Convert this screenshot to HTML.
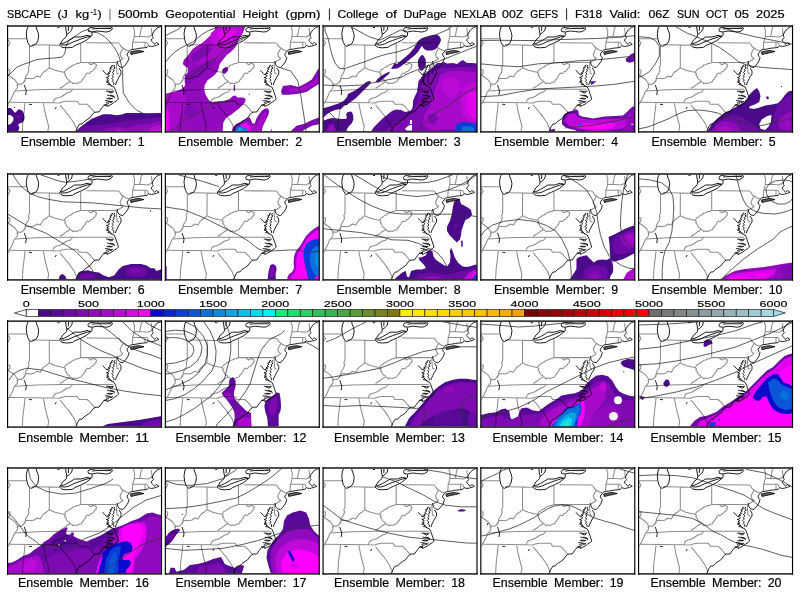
<!DOCTYPE html><html><head><meta charset="utf-8"><style>html,body{margin:0;padding:0;background:#fff;}body{width:800px;height:600px;overflow:hidden;}svg{display:block;}</style></head><body>
<svg width="800" height="600" viewBox="0 0 800 600" font-family='"Liberation Sans", "DejaVu Sans", sans-serif'>
<rect width="800" height="600" fill="#fff"/>
<defs><g id="bm"><path d="M123.5,27 L128,26 L132,25.5 L137,26.5 L133,27.5 L128,28.5 L124,29.5 Z" fill="#666"/><path d="M1,13.7 L19.5,13.7 M1,15 L3,18 L1,21.5 M24.7,19.8 L42,20 L52.5,20.2 M22.5,21 L22.5,38 L22.3,41 L21.3,42.3 L22,45 L21,48 L19,51 L18.3,53 L18,56 L16,58 L14,59.3 M42.3,20 L42.3,42.7 M9.7,60.7 L11,59 L14,59.3 L16,58 L18.7,53.7 L21,53.3 L24,53.7 L27.3,53 L30,51 L33.3,52 L35,49 L37,46.7 L40,44.7 L42.3,42.7 L45,44 L48,45.3 L53,46.5 L57,47.3 M1,44.7 L3,45 L2.7,48.7 L1,50 M1,50 L4,52 L8,55 L10,58 L10.7,60 L10.3,63 L8.7,65 L7,67 L6,70 L4,74 L1.3,79.3 M8,66 L30,64.7 L53,64.3 L106,64.3 M1.3,77.3 L46,77.7 L53,78 L54,77.3 L56.3,76.7 L59,76.3 L69.7,76.3 L71,77 L72.3,79.3 L80,79.3 L83,82 L86.3,86 L88,87.3 M46,77.7 L47,74.7 L49,73.3 L51.3,72.7 L53,72.3 L55,71.3 L58,69.3 L60,68 L63,67.3 L65.7,64.5 M53,63.3 L56.3,61.3 L59.7,58.7 L63,56.7 M57,47.3 L58.5,48.5 L57.8,50 L59.2,51.3 L59.5,53 L61,54.7 L62.5,55.3 L63,56.7 L64.8,57.2 L65.7,58.7 L67.5,57.9 L70.3,58.4 L72,57.2 L74.3,56.7 L75,55.2 L76.3,54 L77.2,52.4 L78.3,51.3 L78.8,49.6 L80.3,48 L81.8,48.6 L83,48 L84,46.5 L85.5,46.2 L87,44.7 L87.6,43.4 L89,42.7 L88.8,41.4 L89.7,40.7 L89,39.3 M18,78 L17.3,85 L16,95 L15.3,107 M36.3,78 L38,87 L40,95 L41.7,101.3 L40.7,107 M53,80 L55,82.3 L57.3,85 L59,87.3 L62,90.7 L64.7,94.7 L67,98 L68.7,102 L69.7,104 L68.7,107 M73.7,19 L73.7,37.3 M73.7,37.4 L109,37.4 M79.5,17.8 L111.5,18 L113,19.5 L114,21.5 L116,23 L119,25 L122.5,26 M116,23.3 L114.5,26 L113,29 L114,32 L116,33.5 L114,35 L111,36.7 L109.5,38 M109.3,37.5 L109.5,42 L110,48 L112,49 M126.5,1.5 L126.7,4 L127.5,5 L127.3,11.5 L126.5,15 L125.7,17 L125.3,24.5 M127.3,11.5 L132.5,11.3 L141,12 L143,11 L145,10 M135.5,1.3 L134,4 L133.5,8 L132.5,11.3 M144.3,3 L144.7,6 L145,10 M125.7,17.3 L140,17.3 M138,17.5 L138,22.5 M140.5,17.5 L141,20 M57,47.3 L58.2,45.8 L59,44.5 L60.6,44 L62,42.5 L63.8,42 L66,40 L67.6,39.8 L70,38.5 L71.5,38.6 L73.7,37.3 M89,39.3 L86.5,38.2 L84,39.8 L82,38.5 L81.7,37.4" fill="none" stroke="#000" stroke-opacity="0.45" stroke-width="1.05" stroke-linejoin="round"/><path d="M154,1.5 L151,2.5 L148,5 L146,8 L145.3,10 L145.5,11.5 L146.3,12.5 L145,14 L144,15 L145,16.5 L146.5,18 L147.5,19.3 L149.5,17.5 L151,18.5 L152,19.3 L149.5,20.3 L147,21 L144.5,21.5 L142.5,21 L141.5,20.5 L140,22.5 L137,22.8 L133,23.2 L129,24 L125,24.5 L122.5,25.5 M123.5,27 L128,26 L132,25.5 L137,26.5 L133,27.5 L128,28.5 L124,29.5 Z M122.5,26 L120,29 L120.5,31 L122,32.5 L121,36 L119,39 L116,42.5 L113,42 L111,40 L110.5,38 L110,36 M112,43 L114,46 L114,49 L112,52 L110.5,55 L109,58 L108.5,60 M102,58 L104,60.5 L107,62 L108.5,65 L109.5,68 L110.5,71 L111.5,74 L110,75.5 L107.5,77 L105,79 L102,80.5 L100,81.5 M101,66.5 L104,68 L106,67 M103,70 L106.5,71 L107.5,73 M99.5,73.5 L104,74 L106,73 M100.5,76.5 L104,77.5 L106,76 M68.7,107 L70.7,102 L72.7,99 L75,99 L77,96.7 L80,94.7 L82.7,93 L85,90 L87,87.7 L89,87 L92,87 L93.3,85 L95,82.7 L97,80.3 L100,79 L100,81.5 M17.3,60 L19.3,66 L18.7,70 M22,79.3 L25,79.5 M48,84 L49.3,82 M106.3,40 L104.3,41 L105.3,42 L102.8,43 L104.3,44 L102.3,45.5 L103.8,46.5 L101.3,47.5 L102.8,48.5 L100.3,49 L102.3,50.5 L101.3,52 L99.3,52.5 L101.8,53.5 L99.8,55 L101.8,56 L99.3,57 L102.3,58 L100.8,59.5 L103.3,60 L104.8,61 M107.8,40 L106.8,42 L108.3,43 L106.3,44.5 L107.3,46 L105.3,47.5 L106.8,49 L105.3,50.5 L106.3,52 L104.8,53.5 L106.3,55 L105.3,56.5 L106.8,58 L106.8,60 M100.5,50 L98.5,48.5 L97,46.5 L95.5,45.5 M99,66 L104,66.5 L107,66 M100,70 L104,71 L107.5,71.5 M101,73 L105,73.5 M98,75.5 L102,76 L105,77 M99,77.5 L102,78.5 M96.5,80 L99.5,80.5" fill="none" stroke="#000" stroke-width="0.85" stroke-linejoin="round"/><path d="M21.5,1 L20,4 L19.3,8.7 L19.7,13 L20.7,17.3 L22.7,20.7 L24.3,21.3 L27,20 L29.3,18.7 L31,15.3 L31.7,10.7 L31,7.3 L29.7,4 L29,1 M58.5,1 L59,5 L59.8,9.3 L59.3,11.5 L58,13 L55.5,15 L54.5,17 L53,19 L52.5,20 M65.5,1 L64.7,5 L62.5,7.5 L59.8,9.3 M50,1.5 L51.5,3 L53,1.5 M52.5,20 L54,21.5 L56,22.5 L60,22.8 L65.5,22.3 L68,20.5 L71,19.3 L75,17.5 L79,15.5 L82,13 L85,10.5 L85,7.3 M53,19 L55,18.5 L57,18 L60,16.5 L64,14.3 L67.5,12 L74,12 L76,11.5 L80,10.3 L84,11.5 M54,19.8 L58,20 L62,19 L66,17 L70,15.5 L75,13.7 L80,12 L84,11 M85,4 L90,3.5 L100,3.6 L104,3.5 M61.5,1 L61.3,6 M85,7 L81.5,6.5 L81,4.5 L82,3 L85,2.3 L90,1.6 L100,1.8 L104,2 L105.5,3 L104.5,5 L102,6.5 L99,7 L95,6.5 L90,6 L85,7" fill="none" stroke="#111" stroke-width="0.95" stroke-linejoin="round"/></g></defs>
<text x="7.00" y="18.3" font-size="11.8" fill="#000" stroke="#000" stroke-width="0.2" textLength="43.70" lengthAdjust="spacingAndGlyphs">SBCAPE</text>
<text x="57.40" y="18.3" font-size="11.8" fill="#000" stroke="#000" stroke-width="0.2" textLength="10.50" lengthAdjust="spacingAndGlyphs">(J</text>
<text x="75.60" y="18.3" font-size="11.8" fill="#000" stroke="#000" stroke-width="0.2" textLength="13.70" lengthAdjust="spacingAndGlyphs">kg</text>
<text x="90.60" y="14.6" font-size="8.2" fill="#000" stroke="#000" stroke-width="0.15" textLength="6.20" lengthAdjust="spacingAndGlyphs">-1</text>
<text x="97.40" y="18.3" font-size="11.8" fill="#000" stroke="#000" stroke-width="0.2" textLength="4.10" lengthAdjust="spacingAndGlyphs">)</text>
<text x="117.90" y="18.3" font-size="11.8" fill="#000" stroke="#000" stroke-width="0.2" textLength="40.20" lengthAdjust="spacingAndGlyphs">500mb</text>
<text x="165.20" y="18.3" font-size="11.8" fill="#000" stroke="#000" stroke-width="0.2" textLength="70.20" lengthAdjust="spacingAndGlyphs">Geopotential</text>
<text x="242.60" y="18.3" font-size="11.8" fill="#000" stroke="#000" stroke-width="0.2" textLength="35.50" lengthAdjust="spacingAndGlyphs">Height</text>
<text x="285.40" y="18.3" font-size="11.8" fill="#000" stroke="#000" stroke-width="0.2" textLength="35.20" lengthAdjust="spacingAndGlyphs">(gpm)</text>
<text x="337.40" y="18.3" font-size="11.8" fill="#000" stroke="#000" stroke-width="0.2" textLength="41.20" lengthAdjust="spacingAndGlyphs">College</text>
<text x="385.40" y="18.3" font-size="11.8" fill="#000" stroke="#000" stroke-width="0.2" textLength="11.50" lengthAdjust="spacingAndGlyphs">of</text>
<text x="403.70" y="18.3" font-size="11.8" fill="#000" stroke="#000" stroke-width="0.2" textLength="42.90" lengthAdjust="spacingAndGlyphs">DuPage</text>
<text x="454.10" y="18.3" font-size="11.8" fill="#000" stroke="#000" stroke-width="0.2" textLength="42.30" lengthAdjust="spacingAndGlyphs">NEXLAB</text>
<text x="502.10" y="18.3" font-size="11.8" fill="#000" stroke="#000" stroke-width="0.2" textLength="21.30" lengthAdjust="spacingAndGlyphs">00Z</text>
<text x="530.20" y="18.3" font-size="11.8" fill="#000" stroke="#000" stroke-width="0.2" textLength="27.90" lengthAdjust="spacingAndGlyphs">GEFS</text>
<text x="574.90" y="18.3" font-size="11.8" fill="#000" stroke="#000" stroke-width="0.2" textLength="27.20" lengthAdjust="spacingAndGlyphs">F318</text>
<text x="609.40" y="18.3" font-size="11.8" fill="#000" stroke="#000" stroke-width="0.2" textLength="31.00" lengthAdjust="spacingAndGlyphs">Valid:</text>
<text x="648.40" y="18.3" font-size="11.8" fill="#000" stroke="#000" stroke-width="0.2" textLength="21.20" lengthAdjust="spacingAndGlyphs">06Z</text>
<text x="676.90" y="18.3" font-size="11.8" fill="#000" stroke="#000" stroke-width="0.2" textLength="22.70" lengthAdjust="spacingAndGlyphs">SUN</text>
<text x="706.10" y="18.3" font-size="11.8" fill="#000" stroke="#000" stroke-width="0.2" textLength="22.00" lengthAdjust="spacingAndGlyphs">OCT</text>
<text x="734.60" y="18.3" font-size="11.8" fill="#000" stroke="#000" stroke-width="0.2" textLength="14.50" lengthAdjust="spacingAndGlyphs">05</text>
<text x="756.10" y="18.3" font-size="11.8" fill="#000" stroke="#000" stroke-width="0.2" textLength="28.50" lengthAdjust="spacingAndGlyphs">2025</text>
<rect x="109.4" y="8.8" width="1.1" height="11.8" fill="#777"/>
<rect x="328.9" y="8.6" width="1.1" height="11.8" fill="#333"/>
<rect x="566.0" y="8.4" width="1.1" height="11.8" fill="#333"/>
<g transform="translate(7.00,25)">
<clipPath id="cp1"><rect x="0.8" y="1.2" width="153.4" height="105.2"/></clipPath>
<g clip-path="url(#cp1)"><path d="M66,107 L68.7,107 L72.2,103 L78,98.4 L84.8,93.8 L91.7,90.9 L96.3,89.2 L103.2,89.2 L109,90.3 L113.6,89.8 L119.3,88 L132,88 L141.2,88.3 L152.7,88 L156,88 L156,108 L66,108 Z" fill="#4a0a8a"/><path d="M70,108 L75,102 L85,100 L95,100 L105,98 L115,96 L125,95 L135,94 L145,93 L156,92 L156,108 Z" fill="#6c0aa6"/><path d="M92,108 L100,103 L110,102 L120,103 L130,100 L140,99 L150,97 L156,96 L156,108 Z" fill="#920abe"/><path d="M104,108 L112,104 L118,108 Z" fill="#bd0ad8"/><path d="M138,108 L146,102 L156,99 L156,108 Z" fill="#bd0ad8"/><path d="M150,108 L156,103 L156,108 Z" fill="#ff00ff"/><path d="M0,83 L3.7,83 L5.3,84.6 L6.9,86.7 L8.5,87.8 L10.1,85.7 L11.7,84.3 L14.4,85.1 L16,86.7 L17.1,89.4 L17.6,92.6 L17.1,95.3 L15.5,97.4 L12.3,98.5 L11.2,100 L12.5,102.7 L12,104 L11.2,106 L11,108 L0,108 L0,100 L1.07,100 L4.3,98.5 L6.4,95.3 L6.4,92.6 L3.7,90 L0,90 Z" fill="#4a0a8a"/><path d="M9.5,91.5 L11.7,89.3 L13.9,91.5 L11.7,93.7 Z" fill="#6c0aa6"/><path d="M7,82 L8,82 L8,83 L7,83 Z" fill="#4a0a8a"/><path d="M0,52 L4,48 L10,42 L16,39.5 L22,37.5 L30,34.5 L40,33.5 L48,33 L55,32 L57.5,29 L58.5,25 L59,21.5 L62,15 L70,10 L75,6.5 L80.6,4.5 L84.9,6.9 L91.3,8 L97.6,11.7 L103,17 L107.2,22.3 L110.4,27.6 L112.5,33 L114.1,39.3 L115.7,45.7 L115.7,55 L116.3,67.8 L122,77.5 L129.8,85.3 L135.7,88.2" fill="none" stroke="#333" stroke-width="0.8" stroke-linejoin="round"/><use href="#bm"/></g>
<rect x="0" y="0.1" width="155" height="1.75" fill="#383838"/>
<rect x="0" y="106.1" width="155" height="1.6" fill="#2a2a2a"/>
<rect x="0" y="0.1" width="1.15" height="107.6" fill="#000"/>
<rect x="153.95" y="0.1" width="1.15" height="107.6" fill="#000"/>
</g>
<text x="20.70" y="145.8" font-size="12.1" fill="#000" stroke="#000" stroke-width="0.2" lengthAdjust="spacingAndGlyphs" textLength="55.00">Ensemble</text>
<text x="82.20" y="145.8" font-size="12.1" fill="#000" stroke="#000" stroke-width="0.2" lengthAdjust="spacingAndGlyphs" textLength="49.40">Member:</text>
<text x="137.80" y="145.8" font-size="12.1" fill="#000" stroke="#000" stroke-width="0.2" lengthAdjust="spacingAndGlyphs" textLength="6.90">1</text>
<g transform="translate(164.75,25)">
<clipPath id="cp2"><rect x="0.8" y="1.2" width="153.4" height="105.2"/></clipPath>
<g clip-path="url(#cp2)"><path d="M51,0 L81,0 L80,3 L78,8 L74,15 L72,20 L70,23 L66,27 L62,30 L58,35 L55,39 L54,43 L53,46 L50,50 L46,53 L43,55 L40,60 L39.5,65 L41,70 L44,75 L47,77 L53,76.5 L58,76.5 L62,75 L65,74 L68.1,71 L70.4,70.6 L72.8,72.5 L78.3,72.5 L81,74 L80.2,77.2 L77.5,80.4 L74.3,83.5 L70.4,86.6 L66.5,89.8 L62.6,92.1 L60.3,94.5 L58.5,98 L58,104 L58,108 L0,108 L0,69 L2,68.5 L6,67.5 L12,66 L17,64 L20,61 L21,57 L23,53 L22.5,52 L23,48 L23,43 L20,41 L18,39 L19,35 L22,32 L25,28 L28,24 L32,21 L36,19 L40,16 L44,13 L48,10 L50,8.5 L51,5 L50,1.5 Z" fill="#920abe"/><path d="M24,30 L30,24 L38,18 L46,10 L52,2 L78,1 L76,10 L70,20 L62,28 L56,34 L48,40 L40,42 L32,40 L26,36 Z" fill="#a80acb"/><path d="M46,8 L52,4 L60,2 L74,2 L78,6 L74,14 L66,20 L58,24 L50,22 L46,16 Z" fill="#bd0ad8"/><path d="M52,8 L58,5 L66,4 L72,6 L68,12 L60,16 L54,15 Z" fill="#e000ee"/><path d="M26,30 L34,24 L42,20 L48,24 L42,30 L34,36 L28,38 Z" fill="#7e0ab2"/><path d="M20,50 L28,44 L36,40 L44,36 L50,33 L52,36 L46,42 L38,48 L30,55 L24,60 L20,58 Z" fill="#7e0ab2"/><path d="M24,72 L34,74 L44,78 L54,80 L58,90 L56,100 L50,108 L30,108 L28,96 L22,86 Z" fill="#920abe"/><path d="M0,70 L8,68 L18,66 L22,72 L20,84 L14,96 L10,108 L0,108 Z" fill="#a80acb"/><path d="M0,85 L4,84 L5,100 L3,108 L0,108 Z" fill="#e000ee"/><path d="M0,92 L2,92 L2,104 L0,104 Z" fill="#ff00ff"/><path d="M20,82 L28,80 L32,86 L26,92 L20,90 Z" fill="#7e0ab2"/><path d="M58,44 L61,42 L63.5,43 L63,46 L60,49 L58,48 L57.5,46 Z" fill="#6c0aa6"/><path d="M116.3,65.9 L118.2,61 L126,60.1 L133.7,62 L141.5,58.1 L147.3,54.3 L153.1,44.6 L156,43 L156,58.1 L149.2,62 L141.5,66.9 L133.7,68.8 L124,69.8 L117.2,69.8 Z" fill="#7e0ab2"/><path d="M124,62 L134,63.5 L142,60 L150,55 L155,50 L155,56 L148,61 L140,65 L132,66.5 L124,67 Z" fill="#a80acb"/><path d="M124,108 L131.8,100.8 L139.5,98.8 L147.3,95 L156,92 L156,98.8 L147.3,100.8 L139.5,104.7 L135.7,108 Z" fill="#7e0ab2"/><path d="M66.5,108 L68.1,102.3 L71.2,99.2 L75.9,96.8 L80.6,94.5 L84.5,92.1 L86.1,94.5 L87.7,98.4 L90,98.4 L91.6,93.7 L94,89.8 L97.1,85.8 L100.2,83.5 L103,83.5 L104.5,85.8 L103.7,89.8 L101.8,93.7 L99.4,98.4 L97.8,102.3 L96.7,108 Z" fill="#7e0ab2"/><path d="M74,108 L76,99 L82,96 L86,100 L92,100 L95,94 L99,88 L102,86 L101,94 L97,102 L95,108 Z" fill="#a80acb"/><path d="M76,100 L82,98 L86,103 L84,108 L76,108 Z" fill="#ff00ff"/><path d="M70,108 L71.5,102 L76,101 L82,103 L84,108 Z" fill="#0a70dc"/><path d="M72,106 L74.3,102.5 L77,103 L78,106 Z" fill="#0aa4e2"/><path d="M69,60 L70.3,60 L70.3,66 L69,66 Z" fill="#7e0ab2"/><path d="M84,69 L85,68.7 L85,70 L84,70 Z" fill="#7e0ab2"/><path d="M105.5,108 L106.5,103.5 L107.5,108 Z" fill="#7e0ab2"/><path d="M0,11 L6,8 L12,5 L18,1 M0,38 L5,32 L10,27 L16,23 L22,20 L28,17 L33,13 L38,9 L43,6 L48,4 L51,3 L55,0 M6,106 L15,100 L22,93 L30,90 L37,86 L43,82 L48,79 L53,77 L60.25,77.2 L66.5,75.7 L70.4,76.4 L72.8,78.8 M23,53 L30,48 L36,43 L42,38 L48,35 L54,31 L60,25 L66,20 L72,17 L80,13 L86,9 M116,43 L126,46 L133,56 L135.7,68 L137.6,81 L139.5,93 L141.5,107" fill="none" stroke="#333" stroke-width="0.8" stroke-linejoin="round"/><use href="#bm"/></g>
<rect x="0" y="0.1" width="155" height="1.75" fill="#383838"/>
<rect x="0" y="106.1" width="155" height="1.6" fill="#2a2a2a"/>
<rect x="0" y="0.1" width="1.15" height="107.6" fill="#000"/>
<rect x="153.95" y="0.1" width="1.15" height="107.6" fill="#000"/>
</g>
<text x="178.10" y="145.8" font-size="12.1" fill="#000" stroke="#000" stroke-width="0.2" lengthAdjust="spacingAndGlyphs" textLength="55.00">Ensemble</text>
<text x="239.60" y="145.8" font-size="12.1" fill="#000" stroke="#000" stroke-width="0.2" lengthAdjust="spacingAndGlyphs" textLength="49.40">Member:</text>
<text x="295.20" y="145.8" font-size="12.1" fill="#000" stroke="#000" stroke-width="0.2" lengthAdjust="spacingAndGlyphs" textLength="6.90">2</text>
<g transform="translate(322.50,25)">
<clipPath id="cp3"><rect x="0.8" y="1.2" width="153.4" height="105.2"/></clipPath>
<g clip-path="url(#cp3)"><path d="M115,38 L118.5,38 L121.5,37 L124.5,38.5 L130.5,38 L134.5,39 L138.5,36 L140.5,35 L144.5,38 L149.5,38 L156,38.5 L156,108 L47.5,108 L51.5,102 L55.5,98 L59.5,94 L64.5,90 L69.5,86 L73.5,84.5 L78.5,85 L82.5,87 L87.5,86 L89.5,84 L90.5,80 L90.5,76 L92,72 L94.5,67 L95.5,60 L96,56 L98.5,53 L100.5,50 L104.5,47 L109.5,43 L113.5,39 Z" fill="#5a0a98"/><path d="M104,52 L112,46 L120,43 L130,43 L140,42 L156,42 L156,108 L60,108 L70,100 L80,94 L88,90 L94,80 L98,66 L100,58 Z" fill="#7e0ab2"/><path d="M118,50 L128,46 L140,46 L156,48 L156,100 L140,104 L125,104 L110,106 L100,100 L102,90 L108,80 L112,66 Z" fill="#a80acb"/><path d="M120,55 L128,52 L136,55 L138,64 L132,72 L125,72 L120,64 Z" fill="#bd0ad8"/><path d="M140,62 L150,58 L156,58 L156,96 L148,98 L140,90 L138,76 Z" fill="#bd0ad8"/><path d="M143,70 L150,66 L156,68 L156,92 L150,94 L144,86 Z" fill="#e000ee"/><path d="M105,90 L112,88 L116,94 L112,100 L106,98 Z" fill="#7e0ab2"/><path d="M132.5,108 L134,99 L140,97 L148,97.5 L156,99 L156,108 Z" fill="#0a3cd8"/><path d="M138,108 L140,102 L148,101 L152,104 L150,108 Z" fill="#0a70dc"/><path d="M87.5,95 L89.5,95 L89.5,99 L87.5,99 Z" fill="#ffffff"/><path d="M82.5,103.5 L87,100 L89.5,100 L89.5,105.5 L84,105.5 Z" fill="#ffffff"/><path d="M74.5,39 L80.5,34 L86.5,29 L91.5,23 L95.5,16 L99.5,13 L104.5,11.5 L109.5,10 L114.5,9.5 L117.5,12 L118.5,15 L117.5,18 L115.5,21 L113.5,24 L109.5,25.5 L104.5,25.5 L101.5,24 L99.5,21 L98.5,22 L95.5,27 L91.5,31 L86.5,35 L81.5,39 L77.5,42 L74.5,43.5 L68.5,44 L72,38 Z" fill="#4a0a8a"/><path d="M110,18 L112.5,17.5 L113,21 L110.5,22 Z" fill="#6c0aa6"/><path d="M95.5,35 L98.5,30.5 L100.5,30 L103,34 L103.5,38 L103,42 L100.5,45 L98.5,46 L96.5,44 L95.5,40 Z" fill="#4a0a8a"/><path d="M53,57 L55,54 L58,51.5 L62,49 L66,47 L67,46.5 L67,48.5 L64,51 L60,54.5 L56,57.5 Z" fill="#4a0a8a"/><path d="M1.5,83 L5.5,82 L11.5,80 L17.5,78 L21.5,75.5 L24.5,72 L25.5,69 L29.5,67 L33.5,65 L37.5,62 L41.5,59 L43.5,57 L47.5,56 L48.5,57 L47.5,59 L44.5,62 L41.5,65 L37.5,69 L33.5,73 L29.5,76 L25.5,79 L21.5,81 L18.5,84 L12.5,85 L7.5,87 L3.5,90 L1.5,92 L0,93 L0,83 Z" fill="#4a0a8a"/><path d="M0,96 L5.5,94 L9.5,93 L14.5,93.5 L19.5,94 L23.5,94 L24.5,92 L23.5,90 L24.5,87.5 L27.5,86.5 L29.5,87 L30.5,90 L31,94 L29.5,98 L26.5,101 L24.5,104 L23.5,108 L0,108 Z" fill="#4a0a8a"/><path d="M4,108 L6,100 L11,99 L13,104 L12,108 Z" fill="#920abe"/><path d="M2.5,0 L2.5,6 L5.5,13 L7.5,22 L9.5,30 L12.5,38 L16.5,43 L21.5,44 L29.5,41 L41.5,37 L54.5,32 L64.5,29 L74.5,27 L84.5,24 L94.5,19 L104.5,13.5 L117.5,8 L126.5,4 L131,0 M28.5,2 L34.5,5 L41.5,9 L47.5,12 L53.5,14 L57.5,15 L62,13 L70,9 L78,5 L84,6 M0,60 L19.5,61 L39.5,60 L49.5,58 L59.5,56 L69.5,54 L79.5,52 L84.5,49 L94.5,45 L104.5,41 L114.5,37 L124.5,33 L134.5,29 L144.5,25 L156,20.5 M0,83 L5.5,86 L10.5,91 L15.5,97 L19.5,102 L23.5,107 M95.5,107 L104.5,95 L114.5,87 L124.5,82 L134.5,74 L144.5,67 L152.5,63 L156,62.3" fill="none" stroke="#333" stroke-width="0.8" stroke-linejoin="round"/><use href="#bm"/></g>
<rect x="0" y="0.1" width="155" height="1.75" fill="#383838"/>
<rect x="0" y="106.1" width="155" height="1.6" fill="#2a2a2a"/>
<rect x="0" y="0.1" width="1.15" height="107.6" fill="#000"/>
<rect x="153.95" y="0.1" width="1.15" height="107.6" fill="#000"/>
</g>
<text x="336.60" y="145.8" font-size="12.1" fill="#000" stroke="#000" stroke-width="0.2" lengthAdjust="spacingAndGlyphs" textLength="55.00">Ensemble</text>
<text x="398.10" y="145.8" font-size="12.1" fill="#000" stroke="#000" stroke-width="0.2" lengthAdjust="spacingAndGlyphs" textLength="49.40">Member:</text>
<text x="453.70" y="145.8" font-size="12.1" fill="#000" stroke="#000" stroke-width="0.2" lengthAdjust="spacingAndGlyphs" textLength="6.90">3</text>
<g transform="translate(480.25,25)">
<clipPath id="cp4"><rect x="0.8" y="1.2" width="153.4" height="105.2"/></clipPath>
<g clip-path="url(#cp4)"><path d="M81.7,95 L82.7,91 L84.7,88.5 L88.7,87 L92.7,86 L95.7,84 L98.2,86 L98.7,90 L101.7,91.5 L107.7,92.5 L112.7,93.5 L118.7,92.5 L124.7,91.5 L134.7,91 L142.7,90.5 L146.7,87 L150.7,83 L153.7,81 L156,80 L156,108 L99.7,108 L94.7,105 L89.7,104 L84.7,102 L81.7,99 Z" fill="#6c0aa6"/><path d="M84,96 L88,90 L94,88 L98,92 L104,94 L114,95 L124,94 L136,94 L146,93 L150,92 L150,100 L140,104 L126,106 L110,106 L98,104 L90,102 Z" fill="#bd0ad8"/><path d="M94.7,100 L100,98 L110,98.5 L120,99 L130,98 L136,99 L132,103 L120,104.5 L108,104 L98,103 Z" fill="#ff00ff"/><path d="M146,90 L152,85 L156,84 L156,108 L140,108 L146,102 Z" fill="#920abe"/><path d="M150,108 L153,100 L156,98 L156,108 Z" fill="#6c0aa6"/><path d="M97.7,98.8 L101.7,98.8 L101.7,99.8 L97.7,99.8 Z" fill="#0a3cd8"/><path d="M151,98.8 L153,98.8 L153,99.8 L151,99.8 Z" fill="#ffffff"/><path d="M145.3,33.9 L151.2,29.1 L156,27 L156,35.9 L149.2,37.8 L146.3,36.8 Z" fill="#5a0a98"/><path d="M150,33 L154,30 L156,30 L156,34 L152,35 Z" fill="#7e0ab2"/><path d="M109.5,56.2 L116.3,56.2 L111.4,60 Z" fill="#5a0a98"/><path d="M69.8,104.7 L74.6,103.7 L74.6,108 L69.8,108 Z" fill="#5a0a98"/><path d="M0,15.5 L20,15.3 L40,15.5 L54,15.5 L81,14.5 L116,13.5 L135,12.5 L156,10.5 M0,38.8 L19.4,40.7 L38.8,41.7 L58,38.8 L77.5,37.8 L97,35.9 L116,34.9 L135.7,33 L156,30.8 M0,71.7 L19.4,70.7 L38.8,66.9 L58,64 L77.5,63 L97,62 L116,61 L135.7,59.1 L156,56 M84.7,103 L93.7,102 L104.7,101 L114.7,100 L124.7,98 L134.7,96 L144.7,94 L156,91.3" fill="none" stroke="#333" stroke-width="0.8" stroke-linejoin="round"/><use href="#bm"/></g>
<rect x="0" y="0.1" width="155" height="1.75" fill="#383838"/>
<rect x="0" y="106.1" width="155" height="1.6" fill="#2a2a2a"/>
<rect x="0" y="0.1" width="1.15" height="107.6" fill="#000"/>
<rect x="153.95" y="0.1" width="1.15" height="107.6" fill="#000"/>
</g>
<text x="494.10" y="145.8" font-size="12.1" fill="#000" stroke="#000" stroke-width="0.2" lengthAdjust="spacingAndGlyphs" textLength="55.00">Ensemble</text>
<text x="555.60" y="145.8" font-size="12.1" fill="#000" stroke="#000" stroke-width="0.2" lengthAdjust="spacingAndGlyphs" textLength="49.40">Member:</text>
<text x="611.20" y="145.8" font-size="12.1" fill="#000" stroke="#000" stroke-width="0.2" lengthAdjust="spacingAndGlyphs" textLength="6.90">4</text>
<g transform="translate(638.00,25)">
<clipPath id="cp5"><rect x="0.8" y="1.2" width="153.4" height="105.2"/></clipPath>
<g clip-path="url(#cp5)"><path d="M69,107.2 L73.6,99.2 L79.4,93.4 L85.3,88.7 L92.2,85.2 L100.4,80.6 L106.2,77.1 L109.7,72.4 L112,69 L115.5,65.5 L119,63.1 L121.3,66.6 L122.5,71.3 L121.3,77.1 L116.7,79.4 L112,81.2 L110.8,82.9 L115.5,84.1 L120.1,82.9 L127.1,80.6 L134.1,79.4 L139.9,78.3 L143.4,74.8 L146.9,70.1 L150.4,66.6 L156,65.3 L156,108 L68,108 Z" fill="#4a0a8a"/><path d="M74,106 L80,97 L88,92 L96,90 L104,92 L110,96 L116,100 L120,104 L124,108 L72,108 Z" fill="#6c0aa6"/><path d="M72,108 L78,100 L86,96 L94,97 L100,101 L104,108 Z" fill="#920abe"/><path d="M76,108 L82,102 L90,101 L94,105 L92,108 Z" fill="#a80acb"/><path d="M140,80 L146,74 L152,70 L156,69 L156,108 L132,108 L134,100 L136,90 Z" fill="#6c0aa6"/><path d="M140,96 L146,90 L152,86 L156,86 L156,104 L150,106 L142,104 Z" fill="#920abe"/><path d="M146,98 L150,95 L153,98 L150,102 Z" fill="#a80acb"/><path d="M121.3,99.2 L123.6,94.5 L129.4,91 L133.5,89.9 L132.9,96.9 L130.6,101.5 L127.1,105 L122.5,103.8 Z" fill="#ffffff"/><path d="M128.3,71.3 L130.6,71.8 L130.6,74.2 L128.5,74 Z" fill="#4a0a8a"/><path d="M143,61 L144,61 L144,62 L143,62 Z" fill="#4a0a8a"/><path d="M0,11.6 L11.6,12.6 L17.4,15.5 L21.3,21.3 L21.3,31 L17.4,38.8 L11.6,46.5 L5.8,50.4 L0,52.3 M34.9,0 L48.4,7.8 L58.1,11.6 L71.7,17.4 L81.4,22.3 L91,29.1 L100.8,36.8 L110.5,40.7 L126,42.6 L139.5,43.6 L156,44.6 M85.3,2.9 L100.8,7.8 L116.3,11.6 L135.7,15.5 L156,19.6 M0,104 L10,102 L20,98 L30,94 L38,90 L45,87 L50,85.5 L60,85 L70,86 L80,88 L85.3,91 L96.9,94.5 L108.5,99.2 L117.8,101.5 L127.1,99.8 L137.6,96.9 L149.2,94.5 L156,93.3" fill="none" stroke="#333" stroke-width="0.8" stroke-linejoin="round"/><use href="#bm"/></g>
<rect x="0" y="0.1" width="155" height="1.75" fill="#383838"/>
<rect x="0" y="106.1" width="155" height="1.6" fill="#2a2a2a"/>
<rect x="0" y="0.1" width="1.15" height="107.6" fill="#000"/>
<rect x="153.95" y="0.1" width="1.15" height="107.6" fill="#000"/>
</g>
<text x="651.60" y="145.8" font-size="12.1" fill="#000" stroke="#000" stroke-width="0.2" lengthAdjust="spacingAndGlyphs" textLength="55.00">Ensemble</text>
<text x="713.10" y="145.8" font-size="12.1" fill="#000" stroke="#000" stroke-width="0.2" lengthAdjust="spacingAndGlyphs" textLength="49.40">Member:</text>
<text x="768.70" y="145.8" font-size="12.1" fill="#000" stroke="#000" stroke-width="0.2" lengthAdjust="spacingAndGlyphs" textLength="6.90">5</text>
<g transform="translate(7.00,173)">
<clipPath id="cp6"><rect x="0.8" y="1.2" width="153.4" height="105.2"/></clipPath>
<g clip-path="url(#cp6)"><path d="M51.4,108 L52.8,102.2 L55.6,101.1 L58.4,102.9 L59.1,105 L59.8,108 Z" fill="#4a0a8a"/><path d="M68.9,108 L71,100.8 L75.2,98 L80.8,97.3 L87.8,99.1 L92,99.4 L96.2,102.2 L101.8,104.3 L107.4,102.2 L111.6,96.6 L115.8,93.1 L124.2,91 L134,91 L139.6,92.4 L143.8,95.2 L147.3,95.2 L149.4,98 L153.6,96.6 L156,95 L156,108 Z" fill="#4a0a8a"/><path d="M72,108 L73,101.5 L78,100 L86,101 L89,104 L88,108 Z" fill="#6c0aa6"/><path d="M118.6,98 L122,94 L130,93 L138,95 L141,99 L138,103 L128,104 L120,102 Z" fill="#6c0aa6"/><path d="M124,97 L130,95.5 L134,97.5 L131,100 L126,100 Z" fill="#7e0ab2"/><path d="M143,37.3 L144,37.3 L144,38.5 L143,38.5 Z" fill="#4a0a8a"/><path d="M5,0 L8.8,6.3 L12.5,11.3 L17.5,16.3 L22.5,20 L31.3,23.8 L41.3,26.3 L56.3,28.8 L72.5,29.4 L87.5,30 L100,31.3 L116.3,32.9 L135.7,34.9 L156,36 M0,40.7 L9.7,46.5 L19.4,52.3 L29.1,56.2 L38.8,60.1 L48.4,65.9 L58.1,71.7 L67.8,77.5 L77.5,87.2 L85.3,96.9 L91,108 M33.8,1.9 L41.3,4.4 L50,7.5 L58.8,9.4 L70,8.1 L81.3,6.3 L85,5" fill="none" stroke="#333" stroke-width="0.8" stroke-linejoin="round"/><use href="#bm"/></g>
<rect x="0" y="0.1" width="155" height="1.75" fill="#383838"/>
<rect x="0" y="106.1" width="155" height="1.6" fill="#2a2a2a"/>
<rect x="0" y="0.1" width="1.15" height="107.6" fill="#000"/>
<rect x="153.95" y="0.1" width="1.15" height="107.6" fill="#000"/>
</g>
<text x="20.70" y="293.8" font-size="12.1" fill="#000" stroke="#000" stroke-width="0.2" lengthAdjust="spacingAndGlyphs" textLength="55.00">Ensemble</text>
<text x="82.20" y="293.8" font-size="12.1" fill="#000" stroke="#000" stroke-width="0.2" lengthAdjust="spacingAndGlyphs" textLength="49.40">Member:</text>
<text x="137.80" y="293.8" font-size="12.1" fill="#000" stroke="#000" stroke-width="0.2" lengthAdjust="spacingAndGlyphs" textLength="6.90">6</text>
<g transform="translate(164.75,173)">
<clipPath id="cp7"><rect x="0.8" y="1.2" width="153.4" height="105.2"/></clipPath>
<g clip-path="url(#cp7)"><path d="M156,52 L154.3,53 L150.3,55 L145.3,59 L141.3,63 L138.3,68 L135.3,73 L131.3,78 L129.3,83 L128.8,89 L129.3,95 L127.3,99 L124.3,101 L122.8,104 L122.3,108 L156,108 Z" fill="#920abe"/><path d="M156,56 L151,58 L146,62 L142,66 L139.5,71 L136.5,76 L133.5,80 L131.5,86 L131.5,95 L130,100 L127,103 L125,108 L156,108 Z" fill="#ff00ff"/><path d="M156,65 L147.3,67 L142.3,70 L139.3,76 L138.8,83 L139.8,90 L141.3,97 L143.3,105 L144,108 L156,108 Z" fill="#0a3cd8"/><path d="M156,72 L150,74 L146,78 L145,86 L146,94 L149,100 L153,104 L156,104 Z" fill="#0a70dc"/><path d="M151,80 L155,78 L156,80 L156,96 L152,94 L150,88 Z" fill="#0a8ade"/><path d="M148,108 L152,103 L156,101 L156,108 Z" fill="#ff00ff"/><path d="M102.7,108 L103.7,98.8 L105.6,92 L108.3,91 L111.3,93 L111.8,97 L110.8,101 L111.3,108 Z" fill="#5a0a98"/><path d="M105,104 L106,96 L109,94 L110,98 L108,104 Z" fill="#7e0ab2"/><path d="M0,93 L1.9,93 L1.9,108 L0,108 Z" fill="#6c0aa6"/><path d="M13.6,1.9 L26,5 L38.8,8.7 L54.3,13.6 M0,33.9 L19.4,36.8 L38.8,44.6 L50.4,50.4 L62,56.2 L73.6,62 L83.3,67.8 L93,75.6 L100.8,78.5 L105.3,78 L115.3,77.5 L125.3,77 L133.3,77 L140.3,78.5 L147.3,78.8 L156,78" fill="none" stroke="#333" stroke-width="0.8" stroke-linejoin="round"/><use href="#bm"/></g>
<rect x="0" y="0.1" width="155" height="1.75" fill="#383838"/>
<rect x="0" y="106.1" width="155" height="1.6" fill="#2a2a2a"/>
<rect x="0" y="0.1" width="1.15" height="107.6" fill="#000"/>
<rect x="153.95" y="0.1" width="1.15" height="107.6" fill="#000"/>
</g>
<text x="178.10" y="293.8" font-size="12.1" fill="#000" stroke="#000" stroke-width="0.2" lengthAdjust="spacingAndGlyphs" textLength="55.00">Ensemble</text>
<text x="239.60" y="293.8" font-size="12.1" fill="#000" stroke="#000" stroke-width="0.2" lengthAdjust="spacingAndGlyphs" textLength="49.40">Member:</text>
<text x="295.20" y="293.8" font-size="12.1" fill="#000" stroke="#000" stroke-width="0.2" lengthAdjust="spacingAndGlyphs" textLength="6.90">7</text>
<g transform="translate(322.50,173)">
<clipPath id="cp8"><rect x="0.8" y="1.2" width="153.4" height="105.2"/></clipPath>
<g clip-path="url(#cp8)"><path d="M131.5,29 L134.5,26 L137,25.5 L138.5,31 L144.5,34 L148.5,37 L149.5,42 L146.8,45 L142.9,47 L141,51.8 L139,57.6 L138.6,62 L137.5,66.3 L134.3,69.4 L131.1,66.3 L126.9,62 L124.5,58 L124.5,53.8 L127.4,48 L129.3,41.2 L130.3,34.4 Z" fill="#4a0a8a"/><path d="M131.5,52 L133.5,50 L135,53 L133,55.5 Z" fill="#6c0aa6"/><path d="M138.6,67.8 L140.2,67.8 L140.2,73.7 L138.8,73.7 Z" fill="#4a0a8a"/><path d="M72.7,105.6 L80.1,99.2 L83.3,98.1 L84.4,103.4 L86.5,104.5 L88.6,98.1 L93.9,96.5 L99.3,96.5 L103.5,94.9 L101.4,91.8 L97.1,87.5 L96.1,84.8 L99.3,84.3 L103.5,82.2 L104.6,79 L106.7,76.9 L109.9,77.9 L111,83.3 L113.1,86.4 L117.3,89.6 L121.6,92.3 L124.8,93.3 L127.4,89.6 L128,83.3 L127.4,77.9 L128.5,74.8 L130.1,77.9 L132.2,84.3 L135.4,89.6 L139.6,93.3 L143.9,93.9 L148.1,93.3 L152.4,91.8 L156,91.5 L156,108 L72,108 Z" fill="#4a0a8a"/><path d="M92,108 L96,101 L106,99.5 L116,100 L124,102 L130,100 L140,98 L150,96 L156,95 L156,108 Z" fill="#6c0aa6"/><path d="M100,108 L104,104 L112,103 L120,105 L118,108 Z" fill="#920abe"/><path d="M140,108 L146,100 L152,97 L156,97 L156,108 Z" fill="#bd0ad8"/><path d="M148,104 L152,99 L156,98.5 L156,102 L152,104 Z" fill="#ff00ff"/><path d="M150.3,108 L151,103 L154,101 L156,101 L156,108 Z" fill="#0a3cd8"/><path d="M0,0 L1.5,1.5 L9.5,8 L19.5,15 L29.5,22 L39.5,28 L49.5,33 L59.5,37 L69.5,40 L79.5,41 L92.5,41 L111.9,41.2 L131.3,41.2 L150.5,43 L156,44 M58,3 L64.5,5.5 L79.5,9.5 L84.5,9.5 L94.5,10 L104.5,9.5 L114.5,7.5 L124.5,4 L130.5,1.5 L133,0 M30,0 L31.5,1.5 L39.5,6 L47.5,11 L54.5,15 L59.5,18 L69.5,20 L74.5,21 L84.5,22.5 L94.5,23.5 L104.5,22.5 L114.5,20.5 L124.5,17.5 L134.5,13.5 L144.5,8.5 L152.5,3 L155,0 M0,55.7 L18.9,57.6 L38.3,59.6 L57.6,63.5 L69.5,66.8 L85.4,67.3 L96.1,70.5 L104.6,74.8 L109.9,76.9 L115.2,80.1 L120.5,86.4 L124.8,93.9 L129,99.2 L133.3,104.5 L134.9,108" fill="none" stroke="#333" stroke-width="0.8" stroke-linejoin="round"/><use href="#bm"/></g>
<rect x="0" y="0.1" width="155" height="1.75" fill="#383838"/>
<rect x="0" y="106.1" width="155" height="1.6" fill="#2a2a2a"/>
<rect x="0" y="0.1" width="1.15" height="107.6" fill="#000"/>
<rect x="153.95" y="0.1" width="1.15" height="107.6" fill="#000"/>
</g>
<text x="336.60" y="293.8" font-size="12.1" fill="#000" stroke="#000" stroke-width="0.2" lengthAdjust="spacingAndGlyphs" textLength="55.00">Ensemble</text>
<text x="398.10" y="293.8" font-size="12.1" fill="#000" stroke="#000" stroke-width="0.2" lengthAdjust="spacingAndGlyphs" textLength="49.40">Member:</text>
<text x="453.70" y="293.8" font-size="12.1" fill="#000" stroke="#000" stroke-width="0.2" lengthAdjust="spacingAndGlyphs" textLength="6.90">8</text>
<g transform="translate(480.25,173)">
<clipPath id="cp9"><rect x="0.8" y="1.2" width="153.4" height="105.2"/></clipPath>
<g clip-path="url(#cp9)"><path d="M128.3,63.9 L132.9,62.1 L138.4,59.3 L144.8,55.7 L152.1,52.9 L156,52.3 L156,79.5 L148.5,83.2 L143,86 L137.5,87.8 L132.9,88.7 L130.1,86 L129.7,79.5 L129.2,70.3 Z" fill="#4a0a8a"/><path d="M133,66 L138,62 L146,59 L154,56 L156,56 L156,77 L148,80 L140,82 L134,80 L132,72 Z" fill="#6c0aa6"/><path d="M140,64 L148,60 L156,59 L156,74 L150,75 L143,72 Z" fill="#920abe"/><path d="M146,63 L152,61 L156,62 L156,70 L151,70 Z" fill="#a80acb"/><path d="M96.2,86 L98.9,84.1 L106.3,82.3 L109.9,86 L113.6,89.6 L117.3,86.9 L122.8,86.4 L126.4,86.9 L130.1,85 L132,88.7 L132.9,93.3 L132.9,98.8 L130.1,103.4 L129.2,108 L89,108 L89.75,106 L91.6,103.4 L96.2,96 Z" fill="#4a0a8a"/><path d="M102,108 L104,97 L110,93 L118,92 L126,94 L128,100 L126,108 Z" fill="#6c0aa6"/><path d="M106,108 L108,100 L114,98 L120,99 L122,104 L120,108 Z" fill="#7e0ab2"/><path d="M110,104 L114,101 L118,103 L116,107 Z" fill="#920abe"/><path d="M142,108 L146.6,99.7 L152.1,96 L156,94.8 L156,108 Z" fill="#a80acb"/><path d="M148,108 L151,100 L156,98 L156,108 Z" fill="#bd0ad8"/><path d="M0,64 L3.9,58.1 L11.6,52.3 L23.3,48.4 L38.8,46.5 L54.3,48.4 L65.9,52.3 L75.6,58.1 L81.4,65.9 L87.2,77.5 L90.1,89.1 L91,100.8 L91,108 M83.3,1.9 L96.9,9.7 L106.6,17.4 L112.4,27.1 L116.3,38.8 L118.2,52 L120,61.2 L123.7,73.1 L129.2,83.2 L135.6,88.7 L141.1,92.4 L148.5,95.1 L156,96.2 M148,0 L147.3,1.9 L143.4,15.5 L141.5,29.1 L140.5,42.6 L140.2,52 L141.1,59.3 L143.9,66.7 L147.6,71.3 L152.1,74.9 L156,76.2" fill="none" stroke="#333" stroke-width="0.8" stroke-linejoin="round"/><use href="#bm"/></g>
<rect x="0" y="0.1" width="155" height="1.75" fill="#383838"/>
<rect x="0" y="106.1" width="155" height="1.6" fill="#2a2a2a"/>
<rect x="0" y="0.1" width="1.15" height="107.6" fill="#000"/>
<rect x="153.95" y="0.1" width="1.15" height="107.6" fill="#000"/>
</g>
<text x="494.10" y="293.8" font-size="12.1" fill="#000" stroke="#000" stroke-width="0.2" lengthAdjust="spacingAndGlyphs" textLength="55.00">Ensemble</text>
<text x="555.60" y="293.8" font-size="12.1" fill="#000" stroke="#000" stroke-width="0.2" lengthAdjust="spacingAndGlyphs" textLength="49.40">Member:</text>
<text x="611.20" y="293.8" font-size="12.1" fill="#000" stroke="#000" stroke-width="0.2" lengthAdjust="spacingAndGlyphs" textLength="6.90">9</text>
<g transform="translate(638.00,173)">
<clipPath id="cp10"><rect x="0.8" y="1.2" width="153.4" height="105.2"/></clipPath>
<g clip-path="url(#cp10)"><path d="M81.4,108 L87.2,102.7 L96.9,97.9 L106.6,95.9 L116.3,95 L126,94 L135.7,92.6 L145.3,90.7 L156,89.3 L156,108 Z" fill="#920abe"/><path d="M86,108 L92,102 L100,100 L110,99 L120,98 L130,97 L138,96 L136,102 L128,106 L120,108 Z" fill="#e000ee"/><path d="M90,108 L96,104 L104,103 L112,104 L110,108 Z" fill="#ff00ff"/><path d="M116,102 L124,100 L130,101 L126,104 Z" fill="#ff00ff"/><path d="M98,98.5 L104,97 L110,97 L106,99 Z" fill="#7e0ab2"/><path d="M142,95 L150,92 L156,91 L156,108 L146,108 L144,100 Z" fill="#7e0ab2"/><path d="M0,5.8 L11.6,6.8 L23.3,9.7 L31,15.5 L34.9,23.3 L35.9,34.9 L34.9,48.4 L33.9,58.1 L31,69.8 L27.1,77.5 L25.2,85.3 L24.2,96.9 L24.2,108 M98,0 L98,2 L100,10 L102,18 L105,26 L108,32 L113,36 L119,39 L127,40.5 L137,41 L145,39.5 L151,37.5 L156,35.5 M156,10 L151,7.5 L145,7 L137,8 L131,11 L128,15.5 L128.5,20.5 L130,24 L134,28.5 L140,31 L147,31 L152,28.5 L156,24 M81.4,108 L93,96.9 L106.6,85.3 L120.2,75.6 L135.7,65.9 L142,59 L150,55 L156,52.5" fill="none" stroke="#333" stroke-width="0.8" stroke-linejoin="round"/><use href="#bm"/></g>
<rect x="0" y="0.1" width="155" height="1.75" fill="#383838"/>
<rect x="0" y="106.1" width="155" height="1.6" fill="#2a2a2a"/>
<rect x="0" y="0.1" width="1.15" height="107.6" fill="#000"/>
<rect x="153.95" y="0.1" width="1.15" height="107.6" fill="#000"/>
</g>
<text x="651.60" y="293.8" font-size="12.1" fill="#000" stroke="#000" stroke-width="0.2" lengthAdjust="spacingAndGlyphs" textLength="55.00">Ensemble</text>
<text x="713.10" y="293.8" font-size="12.1" fill="#000" stroke="#000" stroke-width="0.2" lengthAdjust="spacingAndGlyphs" textLength="49.40">Member:</text>
<text x="768.70" y="293.8" font-size="12.1" fill="#000" stroke="#000" stroke-width="0.2" lengthAdjust="spacingAndGlyphs" textLength="13.80">10</text>
<g transform="translate(7.00,320.2)">
<clipPath id="cp11"><rect x="0.8" y="1.2" width="153.4" height="105.2"/></clipPath>
<g clip-path="url(#cp11)"><path d="M91,108 L100.8,103.7 L116.3,101.7 L131.8,99.8 L143.4,97.9 L156,95.7 L156,108 Z" fill="#4a0a8a"/><path d="M130,108 L138,102 L146,100 L156,98.5 L156,108 Z" fill="#6c0aa6"/><path d="M146,108 L150,103 L156,102 L156,108 Z" fill="#7e0ab2"/><path d="M2,60 L6,54 L13,50 L20,48 L28,49 L36,50 L45,53 L55,56 L65,59 L77.5,62 L96.9,66.9 L116.3,70.7 L135.7,73.6 L156,75.7 M60,8 L65,12 L70,16 L75,20 L85,26 L95,31 L105,35 L115,40 L125,44 L135,48 L145,51 L156,54.3 M88,0 L95,6 L105,13 L113,20 L120,25 L127,29 L135,32 L145,35 L156,39.5 M114,0 L115,1 L120,6 L125,11 L131,15 L137,19 L145,22 L156,26.5 M136,0 L137,1 L145,6 L156,11.5" fill="none" stroke="#333" stroke-width="0.8" stroke-linejoin="round"/><use href="#bm"/></g>
<rect x="0" y="0.1" width="155" height="1.75" fill="#383838"/>
<rect x="0" y="106.1" width="155" height="1.6" fill="#2a2a2a"/>
<rect x="0" y="0.1" width="1.15" height="107.6" fill="#000"/>
<rect x="153.95" y="0.1" width="1.15" height="107.6" fill="#000"/>
</g>
<text x="18.10" y="441.7" font-size="12.1" fill="#000" stroke="#000" stroke-width="0.2" lengthAdjust="spacingAndGlyphs" textLength="55.00">Ensemble</text>
<text x="79.60" y="441.7" font-size="12.1" fill="#000" stroke="#000" stroke-width="0.2" lengthAdjust="spacingAndGlyphs" textLength="49.40">Member:</text>
<text x="135.20" y="441.7" font-size="12.1" fill="#000" stroke="#000" stroke-width="0.2" lengthAdjust="spacingAndGlyphs" textLength="13.80">11</text>
<g transform="translate(164.75,320.2)">
<clipPath id="cp12"><rect x="0.8" y="1.2" width="153.4" height="105.2"/></clipPath>
<g clip-path="url(#cp12)"><path d="M65.4,58.5 L68.3,57.1 L70.7,60.4 L70.7,67.1 L69.2,71.8 L69.2,76.6 L72.1,81.3 L76.8,86.1 L81.6,90.8 L86.3,92.7 L86.8,108 L67.3,108 L70.2,97.5 L69.7,91.8 L67.3,87 L62.6,80.4 L57.8,74.7 L56.9,72.8 L60.7,69 L64.5,65.2 L64.5,60.4 Z" fill="#6c0aa6"/><path d="M65,60 L68,58 L70.5,61 L70.5,66 L66,66 L64.5,63 Z" fill="#5a0a98"/><path d="M59,74.5 L62,72 L68,74 L69.5,78 L66,80 L62,79 Z" fill="#920abe"/><path d="M70,90 L74,88 L80,92 L86,94 L86.5,108 L70,108 Z" fill="#7e0ab2"/><path d="M72,108 L74,99 L80,97 L86,98 L86.5,108 Z" fill="#a80acb"/><path d="M100.6,81.3 L103.4,78.5 L109.1,74.7 L112,72.3 L114.8,72.8 L115.8,78.5 L116.3,86.1 L115.8,90.8 L113.9,94.6 L113.9,108 L103.4,108 L102.5,97.5 L100.6,91.8 L99.6,86.1 Z" fill="#5a0a98"/><path d="M104,84 L108,78 L112,77 L113,84 L111,92 L107,96 L104,92 Z" fill="#7e0ab2"/><path d="M0,18 L8,17.3 L16,18 L22.7,20.7 L28,25.3 L29.3,30.7 L26.7,36 L20,40 L10.7,42.7 L0,44 M0,11.3 L10.7,10 L20,10.7 L29.3,14.7 L34.7,20 L37.3,26.7 L36,34.7 L32,41.3 L25.3,46.7 L16,50.7 L5.3,53.3 L0,54 M18,0 L20,1.3 L30.7,6.7 L38.7,16 L42.7,25.3 L42.7,34.7 L40,44 L33.3,53.3 L25.3,59.5 L14.7,64.5 L4,68.5 L0,70 M37,0 L38.7,1.3 L45.3,10.7 L49.3,20 L51.3,30.7 L50.7,41.3 L47,51 L44,54 L38,61 L30,68 L20,74.5 L10,78.5 L0,80.5 M59,0 L60,1.3 L64,10.7 L66,21.3 L66,30.7 L64.7,40 L62,49 L60,58 L54,67 L46,76 L38,82 L30,88 L20,94 L10,99 L0,102 M120,10 L116.3,13.6 L104.7,19.4 L96.9,29.1 L93,38.8 L89.2,51 L85.4,63.3 L80.6,71.8 L74.9,79.4 L69.2,86.1 L61.6,94.6 L53.1,103.2 L50,108 M139.5,21.3 L147.3,25.2 L156,30.5" fill="none" stroke="#333" stroke-width="0.8" stroke-linejoin="round"/><use href="#bm"/></g>
<rect x="0" y="0.1" width="155" height="1.75" fill="#383838"/>
<rect x="0" y="106.1" width="155" height="1.6" fill="#2a2a2a"/>
<rect x="0" y="0.1" width="1.15" height="107.6" fill="#000"/>
<rect x="153.95" y="0.1" width="1.15" height="107.6" fill="#000"/>
</g>
<text x="175.60" y="441.7" font-size="12.1" fill="#000" stroke="#000" stroke-width="0.2" lengthAdjust="spacingAndGlyphs" textLength="55.00">Ensemble</text>
<text x="237.10" y="441.7" font-size="12.1" fill="#000" stroke="#000" stroke-width="0.2" lengthAdjust="spacingAndGlyphs" textLength="49.40">Member:</text>
<text x="292.70" y="441.7" font-size="12.1" fill="#000" stroke="#000" stroke-width="0.2" lengthAdjust="spacingAndGlyphs" textLength="13.80">12</text>
<g transform="translate(322.50,320.2)">
<clipPath id="cp13"><rect x="0.8" y="1.2" width="153.4" height="105.2"/></clipPath>
<g clip-path="url(#cp13)"><path d="M82.5,108 L82.5,106 L86.5,98 L92.5,92 L98.5,85 L104.5,78 L110.5,71 L116.5,66 L122.5,62 L130.5,59.5 L136.5,58.5 L144.5,58.5 L150.5,59.5 L156,60 L156,108 Z" fill="#4a0a8a"/><path d="M88,104 L92,97 L98,90 L104,83 L110,76 L116,70 L122,66 L130,63 L138,62 L146,62 L152,63 L156,64 L156,100 L150,96 L146,90 L140,88 L130,90 L120,92 L110,96 L100,102 L96,108 L88,108 Z" fill="#7e0ab2"/><path d="M120,70 L126,66 L132,67 L130,72 L124,73 Z" fill="#920abe"/><path d="M112,95 L120,91 L130,90 L138,92 L140,100 L136,105 L122,106 L112,104 Z" fill="#5a0a98"/><path d="M145,96 L150,92 L156,93 L156,108 L146,108 Z" fill="#6c0aa6"/><path d="M3.4,21.8 L11.1,18.9 L18.9,15 L28.6,9.2 L38.3,4.3 L44.1,1.4 L46,0 M0,58.1 L11.1,56.7 L22.8,54.7 L38.3,51.8 L57.6,48 L73.1,42.1 L86.7,36.3 L100.3,31.5 L115.8,28.6 L135.2,26.6 L156,26.6 M118,0 L119.7,1.4 L135.2,4.3 L156,7.5 M0,85.3 L18.9,86.2 L38.3,85.3 L57.6,86.2 L77,87.2 L92.5,88.2 L96.5,88 L101.5,90 L102.5,95 L100.5,101 L97.5,106 L97,108 M156,73.8 L147.5,76 L141.5,81 L138.5,86 L138.5,93 L141.5,99 L144.5,105 L145.5,108" fill="none" stroke="#333" stroke-width="0.8" stroke-linejoin="round"/><use href="#bm"/></g>
<rect x="0" y="0.1" width="155" height="1.75" fill="#383838"/>
<rect x="0" y="106.1" width="155" height="1.6" fill="#2a2a2a"/>
<rect x="0" y="0.1" width="1.15" height="107.6" fill="#000"/>
<rect x="153.95" y="0.1" width="1.15" height="107.6" fill="#000"/>
</g>
<text x="334.10" y="441.7" font-size="12.1" fill="#000" stroke="#000" stroke-width="0.2" lengthAdjust="spacingAndGlyphs" textLength="55.00">Ensemble</text>
<text x="395.60" y="441.7" font-size="12.1" fill="#000" stroke="#000" stroke-width="0.2" lengthAdjust="spacingAndGlyphs" textLength="49.40">Member:</text>
<text x="451.20" y="441.7" font-size="12.1" fill="#000" stroke="#000" stroke-width="0.2" lengthAdjust="spacingAndGlyphs" textLength="13.80">13</text>
<g transform="translate(480.25,320.2)">
<clipPath id="cp14"><rect x="0.8" y="1.2" width="153.4" height="105.2"/></clipPath>
<g clip-path="url(#cp14)"><path d="M0,95 L7.8,93 L15.5,92 L21.3,89.1 L25.2,88.2 L29.1,91 L30,96.9 L31,98.8 L36.8,98.8 L38.8,93 L40.7,88.2 L46.5,87.2 L52.3,90.1 L58.1,91 L59.75,90 L67.75,84 L72.75,81 L77.75,78 L80.75,75.5 L87.75,74 L94.75,73 L101.75,70 L105.75,64 L109.75,60 L115.75,55.5 L121.75,54.5 L127.75,56 L131.75,60 L135.75,67 L138.75,71 L143.4,73.6 L149.2,75.6 L156,76.5 L156,108 L0,108 Z" fill="#5a0a98"/><path d="M0,100 L10,97 L20,95 L30,100 L40,95 L50,94 L60,94 L68,88 L78,82 L90,78 L100,76 L108,68 L114,62 L122,60 L128,62 L132,70 L136,76 L140,80 L150,80 L156,82 L156,108 L0,108 Z" fill="#7e0ab2"/><path d="M60,100 L66,94 L74,88 L84,84 L94,80 L100,80 L106,74 L112,68 L118,66 L124,68 L126,76 L120,86 L112,96 L108,108 L60,108 Z" fill="#a80acb"/><path d="M110,100 L118,90 L126,84 L134,86 L140,92 L140,104 L130,108 L108,108 Z" fill="#920abe"/><path d="M118,66 L122,62 L126,63 L127,70 L122,72 Z" fill="#bd0ad8"/><path d="M68,108 L72,102 L80,94 L88,88 L96,84 L102,80 L105,84 L104,96 L100,108 Z" fill="#ff00ff"/><path d="M69.75,108 L74.75,101 L79.75,95 L84.75,89 L89.75,87 L95.75,85 L99.75,82 L101.25,88 L100.75,93 L97.75,98 L96.75,108 Z" fill="#0a3cd8"/><path d="M72,108 L76,100 L82,93 L88,89 L95,87 L99,84 L100,90 L98,96 L95,102 L94,108 Z" fill="#0a70dc"/><path d="M75,108 L79,101 L85,95 L91,92 L96,93 L95,100 L92,108 Z" fill="#0aa4e2"/><path d="M78,108 L82,101 L88,97 L92,99 L90,108 Z" fill="#0ad8f2"/><path d="M82,108 L84,103 L88,101 L89,105 L87,108 Z" fill="#30e0b0"/><path d="M133.75,80 a4,4 0 1,0 8,0 a4,4 0 1,0 -8,0 Z" fill="#ffffff"/><path d="M128.75,96 a4.5,4.2 0 1,0 9,0 a4.5,4.2 0 1,0 -9,0 Z" fill="#ffffff"/><path d="M141.5,40.7 L147.3,38.8 L156,39.5 L156,50.4 L149.2,48.4 L143.4,46.5 L140.5,43.6 Z" fill="#4a0a8a"/><path d="M143,51 L144,51 L144,52 L143,52 Z" fill="#4a0a8a"/><path d="M0,3.9 L15.5,4.8 L38.8,6.8 L54.3,5.8 L73.6,3.9 L93,1.9 L100,0 M0,96.9 L19.4,93 L38.8,87.2 L54.3,79.5 L65.9,71.7 L81.4,64 L96.9,56.2 L112.4,48.4 L127.9,42.6 L143.4,38.8 L156,36.6 M124,108 L139.5,100.8 L156,97.7" fill="none" stroke="#333" stroke-width="0.8" stroke-linejoin="round"/><use href="#bm"/></g>
<rect x="0" y="0.1" width="155" height="1.75" fill="#383838"/>
<rect x="0" y="106.1" width="155" height="1.6" fill="#2a2a2a"/>
<rect x="0" y="0.1" width="1.15" height="107.6" fill="#000"/>
<rect x="153.95" y="0.1" width="1.15" height="107.6" fill="#000"/>
</g>
<text x="492.60" y="441.7" font-size="12.1" fill="#000" stroke="#000" stroke-width="0.2" lengthAdjust="spacingAndGlyphs" textLength="55.00">Ensemble</text>
<text x="554.10" y="441.7" font-size="12.1" fill="#000" stroke="#000" stroke-width="0.2" lengthAdjust="spacingAndGlyphs" textLength="49.40">Member:</text>
<text x="609.70" y="441.7" font-size="12.1" fill="#000" stroke="#000" stroke-width="0.2" lengthAdjust="spacingAndGlyphs" textLength="13.80">14</text>
<g transform="translate(638.00,320.2)">
<clipPath id="cp15"><rect x="0.8" y="1.2" width="153.4" height="105.2"/></clipPath>
<g clip-path="url(#cp15)"><path d="M50.4,108 L56.2,100.8 L62,96.7 L69.7,95.4 L78.7,91.5 L85.1,86.4 L91.5,82.6 L99.2,77.4 L106.9,72.3 L110.7,68.5 L114.6,64.6 L118.4,60.8 L123.5,55.6 L128.7,50.5 L135.1,46.7 L141.5,40.3 L146.6,35.8 L151.7,33.8 L156,33 L156,108 Z" fill="#6c0aa6"/><path d="M58,108 L62,101 L70,98 L79,94 L86,89 L92,85 L100,80 L107,75 L112,70 L116,66 L120,62 L125,57 L130,52.5 L136,49 L142,43 L147,38.5 L152,36.5 L156,36 L156,108 Z" fill="#e000ee"/><path d="M70,108 L74,102 L82,96 L90,90 L100,84 L108,78 L116,72 L124,66 L132,60 L138,54 L146,48 L156,44 L156,108 Z" fill="#ff00ff"/><path d="M114.6,77.4 L117.1,72.3 L122.3,65.9 L128.7,58.2 L135.1,54.4 L140.2,53.7 L142.8,58.2 L145.3,62.1 L151.7,64.6 L156,67 L156,92.8 L149.2,94.1 L141.5,92.8 L135.1,89 L131.2,82.6 L128.7,76.2 L124.8,76.2 L122.3,80 L118.4,80.6 Z" fill="#0a0acd"/><path d="M130,62 L136,58 L140,60 L143,64 L150,67 L156,70 L156,88 L148,90 L140,87 L135,80 L132,72 Z" fill="#0a55d8"/><path d="M141,75 L145.3,70 L150,72 L151,78 L146,80 Z" fill="#0a70dc"/><path d="M71,108 L72,102 L77.4,101.8 L77.4,108 Z" fill="#0a3cd8"/><path d="M80,98.5 L81.5,98.5 L81.5,100 L80,100 Z" fill="#0a3cd8"/><path d="M65.9,21.3 L68.8,19.4 L73.6,20.3 L74.6,23.3 L69.8,25.2 L66.9,27.1 L65.5,25.2 Z" fill="#4a0a8a"/><path d="M25.2,63 L28.1,59.1 L31,60.1 L32,64 L29.1,66.9 L26.2,65.9 Z" fill="#4a0a8a"/><path d="M1.9,77.5 L3.9,76.6 L6.8,77.5 L4.8,79.5 L2.9,79.1 Z" fill="#4a0a8a"/><path d="M0,4.8 L29.1,3.9 L58.1,1.9 L70,0 M0,29.1 L19.4,27.1 L38.8,23.3 L58.1,19.4 L77.5,15.5 L96.9,10.7 L116.3,3.9 L124,1.9 L128,0 M0,44.6 L19.4,43.6 L38.8,40.7 L58.1,36.8 L77.5,32 L96.9,27.1 L116.3,19.4 L135.7,11.6 L151.2,3.9 L156,1.5 M0,75.6 L7.8,77.5 L19.4,75.6 L38.8,71.7 L58.1,66.9 L77.5,60.1 L96.9,52.3 L116.3,42.6 L135.7,33.9 L156,24.8" fill="none" stroke="#333" stroke-width="0.8" stroke-linejoin="round"/><use href="#bm"/></g>
<rect x="0" y="0.1" width="155" height="1.75" fill="#383838"/>
<rect x="0" y="106.1" width="155" height="1.6" fill="#2a2a2a"/>
<rect x="0" y="0.1" width="1.15" height="107.6" fill="#000"/>
<rect x="153.95" y="0.1" width="1.15" height="107.6" fill="#000"/>
</g>
<text x="650.60" y="441.7" font-size="12.1" fill="#000" stroke="#000" stroke-width="0.2" lengthAdjust="spacingAndGlyphs" textLength="55.00">Ensemble</text>
<text x="712.10" y="441.7" font-size="12.1" fill="#000" stroke="#000" stroke-width="0.2" lengthAdjust="spacingAndGlyphs" textLength="49.40">Member:</text>
<text x="767.70" y="441.7" font-size="12.1" fill="#000" stroke="#000" stroke-width="0.2" lengthAdjust="spacingAndGlyphs" textLength="13.80">15</text>
<g transform="translate(7.00,467)">
<clipPath id="cp16"><rect x="0.8" y="1.2" width="153.4" height="105.2"/></clipPath>
<g clip-path="url(#cp16)"><path d="M0,96 L5,95.5 L10,93 L16,89 L22,87 L27,83 L33,79 L37,75 L42,72 L46,68 L50,65 L54,63 L58,61 L60,60 L60.5,62 L59,65 L60,68 L63,68 L65,66 L67,65.5 L66.5,69 L70,71 L75,73 L80,74.6 L83.3,72.7 L91,69.8 L98.8,65.9 L104.7,62 L110.5,60.1 L116.3,58.1 L124,54.3 L131.8,51.4 L139.5,46.5 L145.3,45.5 L151.2,47.5 L156,48.2 L156,108 L0,108 Z" fill="#6c0aa6"/><path d="M46,72 L52,66 L58,64 L60,69 L66,70 L72,74 L70,78 L60,80 L50,80 L44,78 Z" fill="#5a0a98"/><path d="M0,100 L8,97 L16,92 L24,90 L30,88 L34,92 L36,100 L38,108 L0,108 Z" fill="#a80acb"/><path d="M15,102 L18,95 L25,92 L30,96 L28,104 L22,106 Z" fill="#bd0ad8"/><path d="M36,108 L38,96 L44,88 L56,86 L70,84 L80,82 L92,80 L94,90 L92,100 L90,108 Z" fill="#7e0ab2"/><path d="M83,74 L93.7,68.6 L104.3,62.2 L110,60 L104,66 L96,74 L90,80 L84,84 Z" fill="#5a0a98"/><path d="M104,70 L112,64 L122,60 L132,56 L142,50 L150,50 L156,52 L156,108 L120,108 L124,98 L120,92 L126,82 L116,76 L106,78 Z" fill="#920abe"/><path d="M112,62 L120,58 L130,55 L138,56 L140,64 L138,76 L134,84 L128,92 L126,108 L110,108 L112,90 Z" fill="#e000ee"/><path d="M116,60 L124,57 L132,57 L136,62 L134,72 L130,82 L126,90 L122,84 L118,76 L114,70 Z" fill="#ff00ff"/><path d="M88,108 L91,98 L94,90 L98,84 L104,80 L112,76 L120,74 L126,76 L127,84 L125,92 L126,98 L123,104 L120,108 Z" fill="#ff00ff"/><path d="M95.8,85.7 L102.2,80.3 L108.6,77.1 L115,75 L119.3,73.9 L123.5,76.1 L125.7,80.3 L124.6,84.6 L118.2,86.7 L115,90 L116.1,93.1 L122.5,93.1 L124.1,96.3 L122.5,99.5 L119.3,102.7 L118.2,108 L90.5,108 L92.6,100.6 L94.7,93.1 Z" fill="#0a0acd"/><path d="M98,100 L99,92 L103,84 L108,80 L114,79 L113,86 L111,94 L112,102 L110,108 L97,108 Z" fill="#0a3cd8"/><path d="M101,104 L102,96 L105,88 L109,84 L110,92 L108,100 L106,108 L100,108 Z" fill="#0a55d8"/><path d="M57.5,73 L59,73 L59,74.3 L57.5,74.3 Z" fill="#ffffff"/><path d="M51.5,77 L52.8,77 L52.8,78.3 L51.5,78.3 Z" fill="#ffffff"/><path d="M21.3,0 L21.3,1.9 L23.3,11.6 L29.1,19.4 L38.8,24.2 L54.3,27.1 L67.8,26.2 L81.4,22.3 L93,18.4 L100.8,15.5 L106,12 M0,44.6 L7.8,52.3 L13.6,60.1 L19.4,67.8 L29.1,74.6 L33,78 L40,80 L46,79 L55,80 L60,81 L68,79 L77.5,71.7 L93,65.9 L104.7,58.1 L116.3,48.4 L126,40.7 L139.5,32.9 L156,27.9 M93,108 L106.6,96.9 L120.2,87.2 L135.7,77.5 L151.2,71.7 L156,70.5" fill="none" stroke="#333" stroke-width="0.8" stroke-linejoin="round"/><use href="#bm"/></g>
<rect x="0" y="0.1" width="155" height="1.75" fill="#383838"/>
<rect x="0" y="106.1" width="155" height="1.6" fill="#2a2a2a"/>
<rect x="0" y="0.1" width="1.15" height="107.6" fill="#000"/>
<rect x="153.95" y="0.1" width="1.15" height="107.6" fill="#000"/>
</g>
<text x="18.10" y="586.8" font-size="12.1" fill="#000" stroke="#000" stroke-width="0.2" lengthAdjust="spacingAndGlyphs" textLength="55.00">Ensemble</text>
<text x="79.60" y="586.8" font-size="12.1" fill="#000" stroke="#000" stroke-width="0.2" lengthAdjust="spacingAndGlyphs" textLength="49.40">Member:</text>
<text x="135.20" y="586.8" font-size="12.1" fill="#000" stroke="#000" stroke-width="0.2" lengthAdjust="spacingAndGlyphs" textLength="13.80">16</text>
<g transform="translate(164.75,467)">
<clipPath id="cp17"><rect x="0.8" y="1.2" width="153.4" height="105.2"/></clipPath>
<g clip-path="url(#cp17)"><path d="M102.7,83.3 L108.5,73.6 L114.3,67.8 L118.2,62 L119.2,54.3 L122.1,48.4 L127.9,45.5 L135.7,43.6 L141.5,45.5 L144.4,52.3 L145.3,58.1 L149.2,64 L153.1,67.8 L156,69.5 L156,108 L106.6,108 L103.7,98.8 L101.7,91 Z" fill="#5a0a98"/><path d="M106,84 L112,74 L118,68 L124,64 L134,62 L144,62 L150,68 L156,72 L156,108 L108,108 L106,96 Z" fill="#920abe"/><path d="M110,90 L116,80 L126,74 L138,72 L148,74 L156,78 L156,108 L112,108 Z" fill="#bd0ad8"/><path d="M116,96 L122,86 L132,82 L144,84 L152,88 L156,90 L156,108 L118,108 Z" fill="#ff00ff"/><path d="M124,98 L128,94 L134,98 L130,104 Z" fill="#e000ee"/><path d="M123,84.3 L125,84 L127,87 L129.8,92 L129,95 L127.5,94 L125,89 Z" fill="#0a0acd"/><path d="M0,71.7 L3.9,65.9 L7.8,63 L13.6,61.6 L15.5,63 L11.6,67.8 L7.8,73.6 L3.9,77.5 L0,79.5 Z" fill="#5a0a98"/><path d="M2,73 L6,67 L10,65 L9,69 L5,74 Z" fill="#7e0ab2"/><path d="M3.9,108 L5.8,100.8 L9.7,100.8 L11.6,104.7 L19.4,102.7 L25.2,97.9 L32.9,96.9 L40.7,95 L48.4,92 L56.2,90.1 L58.1,93 L60.1,96.9 L64,98.8 L69.8,100.8 L75.6,97.9 L79.5,98.8 L77.5,104.7 L76.6,108 Z" fill="#5a0a98"/><path d="M30,108 L34,100 L44,98 L54,96 L58,100 L62,104 L60,108 Z" fill="#7e0ab2"/><path d="M17,47 L18,47 L18,48 L17,48 Z" fill="#5a0a98"/><path d="M0,13.6 L11.6,17.4 L25.2,18.4 L42.6,16.5 L58.1,11.6 L69.8,3.9 L74,0 M0,41.7 L19.4,40.7 L38.8,37.8 L58.1,33.9 L71.7,31 L81.4,26.2 L93,19.4 L104.7,11.6 L114.3,3.9 L118,0 M0,81.4 L19.4,83.3 L38.8,82.4 L58.1,81.4 L77.5,77.5 L93,73.6 L104.7,69.8 L116.3,65.9 L131.8,61 L145.3,59.1 L156,57.9" fill="none" stroke="#333" stroke-width="0.8" stroke-linejoin="round"/><use href="#bm"/></g>
<rect x="0" y="0.1" width="155" height="1.75" fill="#383838"/>
<rect x="0" y="106.1" width="155" height="1.6" fill="#2a2a2a"/>
<rect x="0" y="0.1" width="1.15" height="107.6" fill="#000"/>
<rect x="153.95" y="0.1" width="1.15" height="107.6" fill="#000"/>
</g>
<text x="175.60" y="586.8" font-size="12.1" fill="#000" stroke="#000" stroke-width="0.2" lengthAdjust="spacingAndGlyphs" textLength="55.00">Ensemble</text>
<text x="237.10" y="586.8" font-size="12.1" fill="#000" stroke="#000" stroke-width="0.2" lengthAdjust="spacingAndGlyphs" textLength="49.40">Member:</text>
<text x="292.70" y="586.8" font-size="12.1" fill="#000" stroke="#000" stroke-width="0.2" lengthAdjust="spacingAndGlyphs" textLength="13.80">17</text>
<g transform="translate(322.50,467)">
<clipPath id="cp18"><rect x="0.8" y="1.2" width="153.4" height="105.2"/></clipPath>
<g clip-path="url(#cp18)"><path d="M135.2,43.6 L138.1,42.2 L142,42.6 L143.3,43.6 L141,44.6 L136.1,44.6 Z" fill="#4a0a8a"/><path d="M76,106 L78,106 L78,108 L76,108 Z" fill="#4a0a8a"/><path d="M143,106 L147,106 L147,108 L143,108 Z" fill="#4a0a8a"/><path d="M0,37.8 L9.2,44.6 L18.9,52.3 L32.4,56.7 L51.8,62.5 L67.3,66.4 L86.7,70.2 L106.1,72.2 L125.5,74.1 L144.8,76.1 L156,76.1 M60,10 L66,12 L73.1,14.5 L86.7,21.3 L100.3,27.6 L111.9,34.4 L123.5,38.3 L139,39.8 L156,39.8 M102,2.5 L104.2,2.9 L119.7,5.3 L135.2,9.2 L156,12.2" fill="none" stroke="#333" stroke-width="0.8" stroke-linejoin="round"/><use href="#bm"/></g>
<rect x="0" y="0.1" width="155" height="1.75" fill="#383838"/>
<rect x="0" y="106.1" width="155" height="1.6" fill="#2a2a2a"/>
<rect x="0" y="0.1" width="1.15" height="107.6" fill="#000"/>
<rect x="153.95" y="0.1" width="1.15" height="107.6" fill="#000"/>
</g>
<text x="334.10" y="586.8" font-size="12.1" fill="#000" stroke="#000" stroke-width="0.2" lengthAdjust="spacingAndGlyphs" textLength="55.00">Ensemble</text>
<text x="395.60" y="586.8" font-size="12.1" fill="#000" stroke="#000" stroke-width="0.2" lengthAdjust="spacingAndGlyphs" textLength="49.40">Member:</text>
<text x="451.20" y="586.8" font-size="12.1" fill="#000" stroke="#000" stroke-width="0.2" lengthAdjust="spacingAndGlyphs" textLength="13.80">18</text>
<g transform="translate(480.25,467)">
<clipPath id="cp19"><rect x="0.8" y="1.2" width="153.4" height="105.2"/></clipPath>
<g clip-path="url(#cp19)"><path d="M6.6,56.3 L8.3,56.3 L7.8,58 L7,58.3 Z" fill="#4a0a8a"/><path d="M0,69.2 L10,67.3 L19.4,64.5 L29,62 L38.8,58.1 L46,54.5 L54.3,50.4 L60,46.5 L67.8,41.7 L74,39 L81.4,37.8 L91,38.8 L100,43 L112.4,50.4 L124,54 L135.7,57.2 L145,60.5 L156,64 M0,14.8 L1,14.3 L5,12 L10,9.7 L14,8 L18,6 L22,3.7 L26,2 L29.5,1 L31,0 M134,0.5 L135.5,1 L140,2 L144,3.3 L148,4.3 L150,5 L154,6 L156,6.5" fill="none" stroke="#333" stroke-width="0.8" stroke-linejoin="round"/><use href="#bm"/></g>
<rect x="0" y="0.1" width="155" height="1.75" fill="#383838"/>
<rect x="0" y="106.1" width="155" height="1.6" fill="#2a2a2a"/>
<rect x="0" y="0.1" width="1.15" height="107.6" fill="#000"/>
<rect x="153.95" y="0.1" width="1.15" height="107.6" fill="#000"/>
</g>
<text x="492.60" y="586.8" font-size="12.1" fill="#000" stroke="#000" stroke-width="0.2" lengthAdjust="spacingAndGlyphs" textLength="55.00">Ensemble</text>
<text x="554.10" y="586.8" font-size="12.1" fill="#000" stroke="#000" stroke-width="0.2" lengthAdjust="spacingAndGlyphs" textLength="49.40">Member:</text>
<text x="609.70" y="586.8" font-size="12.1" fill="#000" stroke="#000" stroke-width="0.2" lengthAdjust="spacingAndGlyphs" textLength="13.80">19</text>
<g transform="translate(638.00,467)">
<clipPath id="cp20"><rect x="0.8" y="1.2" width="153.4" height="105.2"/></clipPath>
<g clip-path="url(#cp20)"><path d="M0,8.7 L19.4,7.8 L38.8,8.7 L54.3,10.7 L64,13.6 L77.5,18.4 L93,23.3 L106,28 L114,33 L120.6,38.5 L126.8,42.2 L134.2,45.3 L144,49 L153.9,52.7 L156,53.3 M0,44.6 L19.4,46.5 L38.8,48.4 L54.3,51.4 L64,56.2 L75,64.4 L82.4,67.5 L89.8,71.8 L97.2,75.5 L105.8,78 L114.5,79.9 L124.3,82.3 L134.2,85.4 L144,88.5 L153.9,90.3 L156,90.5 M108,2 L110.5,2.9 L126,5.8 L139.5,11.6 L153.1,19.4 L156,21" fill="none" stroke="#333" stroke-width="0.8" stroke-linejoin="round"/><use href="#bm"/></g>
<rect x="0" y="0.1" width="155" height="1.75" fill="#383838"/>
<rect x="0" y="106.1" width="155" height="1.6" fill="#2a2a2a"/>
<rect x="0" y="0.1" width="1.15" height="107.6" fill="#000"/>
<rect x="153.95" y="0.1" width="1.15" height="107.6" fill="#000"/>
</g>
<text x="650.60" y="586.8" font-size="12.1" fill="#000" stroke="#000" stroke-width="0.2" lengthAdjust="spacingAndGlyphs" textLength="55.00">Ensemble</text>
<text x="712.10" y="586.8" font-size="12.1" fill="#000" stroke="#000" stroke-width="0.2" lengthAdjust="spacingAndGlyphs" textLength="49.40">Member:</text>
<text x="767.70" y="586.8" font-size="12.1" fill="#000" stroke="#000" stroke-width="0.2" lengthAdjust="spacingAndGlyphs" textLength="13.80">20</text>
<path d="M26.25,309.5 L14.4,313 L26.25,316.4 Z" fill="#fff" stroke="#333" stroke-width="0.8"/><path d="M773.6,309.5 L785.4,313 L773.6,316.4 Z" fill="#a8e0ea" stroke="#333" stroke-width="0.8"/><rect x="26.25" y="309.5" width="12.46" height="6.90" fill="#ffffff" stroke="#222" stroke-width="0.7"/><rect x="38.71" y="309.5" width="12.46" height="6.90" fill="#4a0a8a" stroke="#222" stroke-width="0.7"/><rect x="51.16" y="309.5" width="12.46" height="6.90" fill="#5a0a98" stroke="#222" stroke-width="0.7"/><rect x="63.62" y="309.5" width="12.46" height="6.90" fill="#6c0aa6" stroke="#222" stroke-width="0.7"/><rect x="76.07" y="309.5" width="12.46" height="6.90" fill="#7e0ab2" stroke="#222" stroke-width="0.7"/><rect x="88.53" y="309.5" width="12.46" height="6.90" fill="#920abe" stroke="#222" stroke-width="0.7"/><rect x="100.99" y="309.5" width="12.46" height="6.90" fill="#a80acb" stroke="#222" stroke-width="0.7"/><rect x="113.44" y="309.5" width="12.46" height="6.90" fill="#bd0ad8" stroke="#222" stroke-width="0.7"/><rect x="125.90" y="309.5" width="12.46" height="6.90" fill="#d40ae6" stroke="#222" stroke-width="0.7"/><rect x="138.35" y="309.5" width="12.46" height="6.90" fill="#f400f8" stroke="#222" stroke-width="0.7"/><rect x="150.81" y="309.5" width="12.46" height="6.90" fill="#0a0acd" stroke="#222" stroke-width="0.7"/><rect x="163.26" y="309.5" width="12.46" height="6.90" fill="#0a22d6" stroke="#222" stroke-width="0.7"/><rect x="175.72" y="309.5" width="12.46" height="6.90" fill="#0a3cd8" stroke="#222" stroke-width="0.7"/><rect x="188.18" y="309.5" width="12.46" height="6.90" fill="#0a55d8" stroke="#222" stroke-width="0.7"/><rect x="200.63" y="309.5" width="12.46" height="6.90" fill="#0a70dc" stroke="#222" stroke-width="0.7"/><rect x="213.09" y="309.5" width="12.46" height="6.90" fill="#0a8ade" stroke="#222" stroke-width="0.7"/><rect x="225.54" y="309.5" width="12.46" height="6.90" fill="#0aa4e2" stroke="#222" stroke-width="0.7"/><rect x="238.00" y="309.5" width="12.46" height="6.90" fill="#0ac0ea" stroke="#222" stroke-width="0.7"/><rect x="250.46" y="309.5" width="12.46" height="6.90" fill="#0ad8f2" stroke="#222" stroke-width="0.7"/><rect x="262.91" y="309.5" width="12.46" height="6.90" fill="#00f4ff" stroke="#222" stroke-width="0.7"/><rect x="275.37" y="309.5" width="12.46" height="6.90" fill="#14e87a" stroke="#222" stroke-width="0.7"/><rect x="287.82" y="309.5" width="12.46" height="6.90" fill="#1ede70" stroke="#222" stroke-width="0.7"/><rect x="300.28" y="309.5" width="12.46" height="6.90" fill="#24d266" stroke="#222" stroke-width="0.7"/><rect x="312.73" y="309.5" width="12.46" height="6.90" fill="#2cc45a" stroke="#222" stroke-width="0.7"/><rect x="325.19" y="309.5" width="12.46" height="6.90" fill="#36b650" stroke="#222" stroke-width="0.7"/><rect x="337.65" y="309.5" width="12.46" height="6.90" fill="#44a842" stroke="#222" stroke-width="0.7"/><rect x="350.10" y="309.5" width="12.46" height="6.90" fill="#5a9a36" stroke="#222" stroke-width="0.7"/><rect x="362.56" y="309.5" width="12.46" height="6.90" fill="#6a8c2a" stroke="#222" stroke-width="0.7"/><rect x="375.01" y="309.5" width="12.46" height="6.90" fill="#78801c" stroke="#222" stroke-width="0.7"/><rect x="387.47" y="309.5" width="12.46" height="6.90" fill="#807800" stroke="#222" stroke-width="0.7"/><rect x="399.93" y="309.5" width="12.46" height="6.90" fill="#fff000" stroke="#222" stroke-width="0.7"/><rect x="412.38" y="309.5" width="12.46" height="6.90" fill="#ffe800" stroke="#222" stroke-width="0.7"/><rect x="424.84" y="309.5" width="12.46" height="6.90" fill="#ffe000" stroke="#222" stroke-width="0.7"/><rect x="437.29" y="309.5" width="12.46" height="6.90" fill="#ffd800" stroke="#222" stroke-width="0.7"/><rect x="449.75" y="309.5" width="12.46" height="6.90" fill="#ffd000" stroke="#222" stroke-width="0.7"/><rect x="462.20" y="309.5" width="12.46" height="6.90" fill="#ffc800" stroke="#222" stroke-width="0.7"/><rect x="474.66" y="309.5" width="12.46" height="6.90" fill="#ffc000" stroke="#222" stroke-width="0.7"/><rect x="487.12" y="309.5" width="12.46" height="6.90" fill="#ffb600" stroke="#222" stroke-width="0.7"/><rect x="499.57" y="309.5" width="12.46" height="6.90" fill="#ffac00" stroke="#222" stroke-width="0.7"/><rect x="512.03" y="309.5" width="12.46" height="6.90" fill="#ffa000" stroke="#222" stroke-width="0.7"/><rect x="524.48" y="309.5" width="12.46" height="6.90" fill="#780000" stroke="#222" stroke-width="0.7"/><rect x="536.94" y="309.5" width="12.46" height="6.90" fill="#880000" stroke="#222" stroke-width="0.7"/><rect x="549.40" y="309.5" width="12.46" height="6.90" fill="#980000" stroke="#222" stroke-width="0.7"/><rect x="561.85" y="309.5" width="12.46" height="6.90" fill="#a80000" stroke="#222" stroke-width="0.7"/><rect x="574.31" y="309.5" width="12.46" height="6.90" fill="#b80000" stroke="#222" stroke-width="0.7"/><rect x="586.76" y="309.5" width="12.46" height="6.90" fill="#c80000" stroke="#222" stroke-width="0.7"/><rect x="599.22" y="309.5" width="12.46" height="6.90" fill="#d80000" stroke="#222" stroke-width="0.7"/><rect x="611.67" y="309.5" width="12.46" height="6.90" fill="#e80000" stroke="#222" stroke-width="0.7"/><rect x="624.13" y="309.5" width="12.46" height="6.90" fill="#f40000" stroke="#222" stroke-width="0.7"/><rect x="636.59" y="309.5" width="12.46" height="6.90" fill="#ff0000" stroke="#222" stroke-width="0.7"/><rect x="649.04" y="309.5" width="12.46" height="6.90" fill="#6e6e6e" stroke="#222" stroke-width="0.7"/><rect x="661.50" y="309.5" width="12.46" height="6.90" fill="#787878" stroke="#222" stroke-width="0.7"/><rect x="673.95" y="309.5" width="12.46" height="6.90" fill="#808686" stroke="#222" stroke-width="0.7"/><rect x="686.41" y="309.5" width="12.46" height="6.90" fill="#889090" stroke="#222" stroke-width="0.7"/><rect x="698.87" y="309.5" width="12.46" height="6.90" fill="#8c9c9e" stroke="#222" stroke-width="0.7"/><rect x="711.32" y="309.5" width="12.46" height="6.90" fill="#92a8ac" stroke="#222" stroke-width="0.7"/><rect x="723.78" y="309.5" width="12.46" height="6.90" fill="#98b4b8" stroke="#222" stroke-width="0.7"/><rect x="736.23" y="309.5" width="12.46" height="6.90" fill="#9cc0c6" stroke="#222" stroke-width="0.7"/><rect x="748.69" y="309.5" width="12.46" height="6.90" fill="#a0ccd4" stroke="#222" stroke-width="0.7"/><rect x="761.14" y="309.5" width="12.46" height="6.90" fill="#a6d8e2" stroke="#222" stroke-width="0.7"/><text x="26.25" y="307.2" font-size="9.9" fill="#000" stroke="#000" stroke-width="0.15" text-anchor="middle" textLength="7.0" lengthAdjust="spacingAndGlyphs">0</text><text x="88.53" y="307.2" font-size="9.9" fill="#000" stroke="#000" stroke-width="0.15" text-anchor="middle" textLength="21.0" lengthAdjust="spacingAndGlyphs">500</text><text x="150.81" y="307.2" font-size="9.9" fill="#000" stroke="#000" stroke-width="0.15" text-anchor="middle" textLength="28.0" lengthAdjust="spacingAndGlyphs">1000</text><text x="213.09" y="307.2" font-size="9.9" fill="#000" stroke="#000" stroke-width="0.15" text-anchor="middle" textLength="28.0" lengthAdjust="spacingAndGlyphs">1500</text><text x="275.37" y="307.2" font-size="9.9" fill="#000" stroke="#000" stroke-width="0.15" text-anchor="middle" textLength="28.0" lengthAdjust="spacingAndGlyphs">2000</text><text x="337.65" y="307.2" font-size="9.9" fill="#000" stroke="#000" stroke-width="0.15" text-anchor="middle" textLength="28.0" lengthAdjust="spacingAndGlyphs">2500</text><text x="399.93" y="307.2" font-size="9.9" fill="#000" stroke="#000" stroke-width="0.15" text-anchor="middle" textLength="28.0" lengthAdjust="spacingAndGlyphs">3000</text><text x="462.20" y="307.2" font-size="9.9" fill="#000" stroke="#000" stroke-width="0.15" text-anchor="middle" textLength="28.0" lengthAdjust="spacingAndGlyphs">3500</text><text x="524.48" y="307.2" font-size="9.9" fill="#000" stroke="#000" stroke-width="0.15" text-anchor="middle" textLength="28.0" lengthAdjust="spacingAndGlyphs">4000</text><text x="586.76" y="307.2" font-size="9.9" fill="#000" stroke="#000" stroke-width="0.15" text-anchor="middle" textLength="28.0" lengthAdjust="spacingAndGlyphs">4500</text><text x="649.04" y="307.2" font-size="9.9" fill="#000" stroke="#000" stroke-width="0.15" text-anchor="middle" textLength="28.0" lengthAdjust="spacingAndGlyphs">5000</text><text x="711.32" y="307.2" font-size="9.9" fill="#000" stroke="#000" stroke-width="0.15" text-anchor="middle" textLength="28.0" lengthAdjust="spacingAndGlyphs">5500</text><text x="773.60" y="307.2" font-size="9.9" fill="#000" stroke="#000" stroke-width="0.15" text-anchor="middle" textLength="28.0" lengthAdjust="spacingAndGlyphs">6000</text>
</svg></body></html>
